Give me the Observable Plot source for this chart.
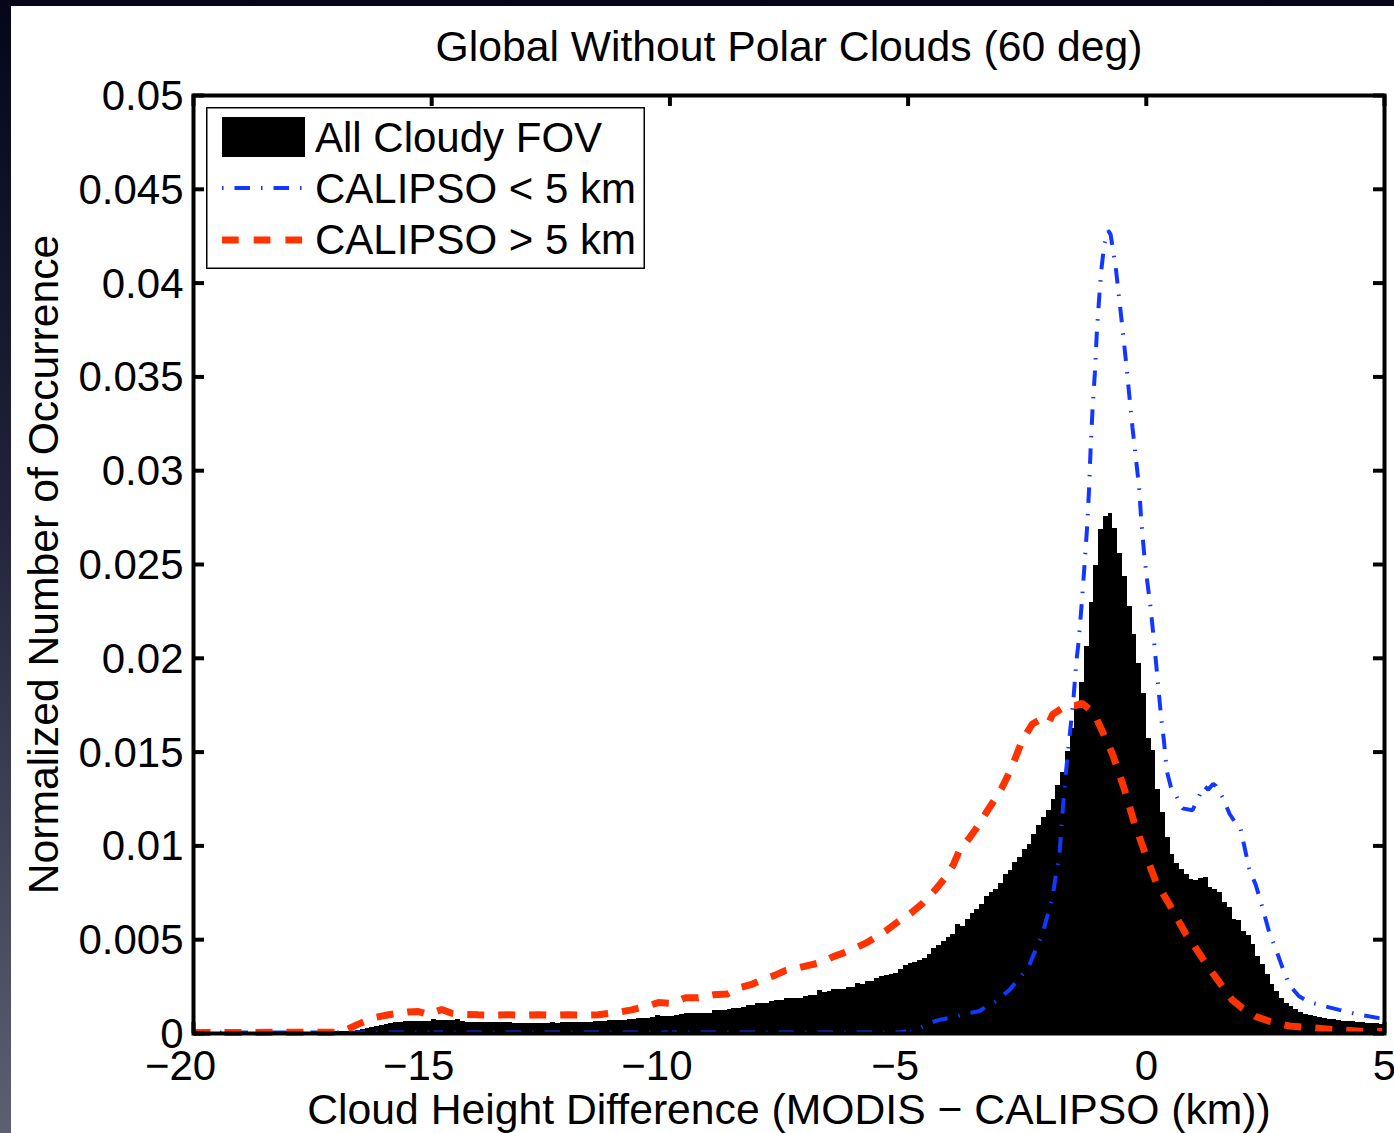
<!DOCTYPE html>
<html><head><meta charset="utf-8">
<script src="https://cdn.jsdelivr.net/npm/d3@7"></script>
<script src="https://cdn.jsdelivr.net/npm/@observablehq/plot@0.6"></script>
<style>
html,body{margin:0;padding:0;width:1394px;height:1133px;overflow:hidden;}
body{background:linear-gradient(to bottom,#05061a 0%,#22233a 45%,#5f5f72 100%);position:relative;font-family:"Liberation Sans",Arial,Helvetica,sans-serif;}
#paper{position:absolute;left:11px;top:6px;width:1383px;height:1127px;background:#fff;}
#chart{position:absolute;left:0;top:0;}
#legend{position:absolute;left:206px;top:107px;}
</style></head><body>
<div id="paper"></div><div id="chart"></div><div id="legend"></div>
<script>
// ---------- data ----------
const titleText = "Global Without Polar Clouds (60 deg)";
const xLabel = "Cloud Height Difference (MODIS \u2212 CALIPSO (km))";
const yLabel = "Normalized Number of Occurrence";
const seriesNames = ["All Cloudy FOV", "CALIPSO < 5 km", "CALIPSO > 5 km"];
const seriesColors = ["#000000", "#1238ff", "#ff3300"];

const xTicks = [-20, -15, -10, -5, 0, 5];
const xTickLabels = ["\u221220", "\u221215", "\u221210", "\u22125", "0", "5"];
const yTicks = [0, 0.005, 0.01, 0.015, 0.02, 0.025, 0.03, 0.035, 0.04, 0.045, 0.05];
const yTickLabels = ["0", "0.005", "0.01", "0.015", "0.02", "0.025", "0.03", "0.035", "0.04", "0.045", "0.05"];
const xDomain = [-20, 5];
const yDomain = [0, 0.05];

// histogram: 0.1 km bins starting at -20 km
const binStart = -20;
const binWidth = 0.1;
const histValues = [
  0.00002,0.00002,0.00002,0.00002,0.00002,0.00002,0.00002,0.00002,0.00002,0.00002,
  0.00002,0.00002,0.00002,0.00002,0.00002,0.00002,0.00002,0.00002,0.00002,0.00002,
  0.00003,0.00003,0.00004,0.00004,0.00005,0.00005,0.00006,0.00007,0.00008,0.00009,
  0.0001,0.0001,0.00011,0.00013,0.00015,0.00019,0.00024,0.0003,0.00036,0.00042,
  0.00048,0.00053,0.00057,0.0006,0.00062,0.00063,0.00064,0.00064,0.00065,0.00066,
  0.00077,0.00068,0.00069,0.0007,0.00068,0.00076,0.00062,0.00061,0.0006,0.0006,
  0.0006,0.00059,0.00059,0.00058,0.00057,0.00056,0.00056,0.00055,0.00055,0.00055,
  0.00055,0.00055,0.00054,0.00055,0.00055,0.00056,0.00055,0.00056,0.00057,0.00058,
  0.00059,0.0006,0.0006,0.00061,0.00062,0.00064,0.00066,0.00067,0.00068,0.00069,
  0.0007,0.00072,0.00076,0.00079,0.00082,0.00082,0.00085,0.00096,0.00093,0.0009,
  0.00091,0.00098,0.001,0.00105,0.00104,0.00104,0.00106,0.00108,0.00108,0.0012,
  0.00121,0.0012,0.0013,0.00135,0.00135,0.0014,0.00149,0.0015,0.00158,0.00158,
  0.0016,0.0017,0.00174,0.00176,0.00185,0.00188,0.00188,0.00186,0.00195,0.002,
  0.00201,0.00228,0.00218,0.00222,0.00233,0.00233,0.00234,0.00245,0.00247,0.00268,
  0.00262,0.00277,0.00279,0.00292,0.00305,0.00309,0.00315,0.0032,0.0034,0.0036,
  0.00375,0.0038,0.0039,0.004,0.0042,0.00455,0.0047,0.0049,0.0051,0.0053,
  0.0058,0.0057,0.0061,0.0064,0.0066,0.0069,0.0073,0.0075,0.0077,0.008,
  0.0085,0.0087,0.0091,0.0094,0.0098,0.0101,0.0106,0.0111,0.0115,0.0119,
  0.0125,0.0132,0.0139,0.01504,0.01628,0.01746,0.01873,0.02065,0.023,0.02493,
  0.02684,0.02757,0.02772,0.02693,0.02557,0.02434,0.02274,0.02125,0.01974,0.0181,
  0.01573,0.0151,0.013,0.01178,0.01045,0.00954,0.00908,0.00872,0.00845,0.00821,
  0.00818,0.00828,0.0083,0.0078,0.0077,0.0075,0.00697,0.0067,0.0061,0.006,
  0.00544,0.0052,0.00473,0.0041,0.00367,0.00313,0.0026,0.00224,0.00188,0.0016,
  0.00144,0.00126,0.00114,0.001,0.00095,0.00088,0.00085,0.0008,0.00075,0.00073,
  0.0007,0.00066,0.00064,0.00062,0.00059,0.00057,0.00055,0.00053,0.00052,0.0005
];

// CALIPSO < 5 km
const blueX = [-20,-17,-14,-11,-8,-6,-5.2,-5.0,-4.9,-4.75,-4.57,-4.3,-4.0,-3.73,-3.5,-3.38,-3.17,-3.03,-2.88,-2.68,
  -2.46,-2.4,-2.18,-2.04,-1.97,-1.88,-1.83,-1.77,-1.7,-1.62,-1.53,-1.47,-1.42,-1.35,-1.29,-1.24,-1.2,-1.17,-1.13,-1.08,
  -1.04,-0.99,-0.94,-0.88,-0.8,-0.75,-0.64,-0.57,-0.5,-0.43,-0.36,-0.29,-0.22,-0.15,-0.11,-0.05,0.0,0.09,0.17,0.24,
  0.31,0.37,0.43,0.52,0.62,0.76,0.97,1.1,1.21,1.3,1.4,1.46,1.6,1.75,1.88,1.98,2.09,2.16,2.3,2.44,
  2.58,2.72,2.86,3.0,3.2,3.4,3.63,4.05,4.47,4.89,5.0];
const blueY = [0.00005,0.00005,0.00005,0.00005,0.00005,0.00005,0.00006,0.00012,0.0002,0.0003,0.00055,0.00075,0.0009,0.00108,0.0012,0.0014,0.0017,0.002,0.0023,0.0029,
  0.0036,0.004,0.0053,0.0066,0.0072,0.0088,0.0093,0.0114,0.0136,0.0156,0.0178,0.0198,0.0209,0.0231,0.0252,0.0271,0.0291,0.0311,0.0332,0.0352,
  0.0373,0.0392,0.0408,0.0421,0.0428,0.0426,0.0408,0.0392,0.0376,0.0359,0.0341,0.0323,0.0307,0.0291,0.0275,0.0257,0.0245,0.0227,0.0207,0.0188,
  0.0169,0.0156,0.014,0.0131,0.0127,0.012,0.0119,0.0126,0.0132,0.013,0.0133,0.0132,0.0126,0.0117,0.0112,0.0109,0.0096,0.0088,0.0079,0.0067,
  0.0054,0.0045,0.0035,0.0026,0.002,0.0017,0.00153,0.00126,0.001,0.00082,0.0008];

// CALIPSO > 5 km
const redX = [-20,-17.0,-16.8,-16.54,-16.2,-15.9,-15.5,-15.28,-15.07,-14.79,-14.58,-14.3,-14.02,-13.7,-13.39,-13.0,-12.76,-12.4,-12.13,-11.8,
  -11.5,-11.1,-10.8,-10.5,-10.24,-9.95,-9.68,-9.4,-9.09,-8.8,-8.57,-8.3,-8.07,-7.8,-7.58,-7.3,-7.02,-6.8,-6.57,-6.35,
  -6.11,-5.9,-5.69,-5.45,-5.2,-4.95,-4.71,-4.45,-4.22,-4.05,-3.93,-3.72,-3.55,-3.38,-3.2,-3.03,-2.82,-2.61,-2.39,-2.18,
  -2.04,-1.97,-1.7,-1.49,-1.35,-1.2,-1.05,-0.92,-0.71,-0.47,-0.26,-0.01,0.2,0.48,0.83,1.0,1.18,1.4,1.6,1.8,
  2.02,2.3,2.6,3.0,3.5,4.0,4.6,5.0];
const redY = [0.00005,0.00007,0.0002,0.0005,0.00085,0.001,0.00115,0.00117,0.00102,0.00128,0.00108,0.00102,0.001,0.00098,0.001,0.00098,0.001,0.00097,0.001,0.00098,
  0.001,0.00112,0.00126,0.00145,0.00165,0.0016,0.0019,0.0019,0.00206,0.0021,0.00242,0.0026,0.00286,0.0031,0.00335,0.0035,0.00367,0.0038,0.0041,0.0043,
  0.00455,0.0048,0.00512,0.0055,0.00598,0.0064,0.0069,0.0076,0.0083,0.009,0.0097,0.0104,0.011,0.0117,0.0124,0.0131,0.0142,0.0156,0.0165,0.0168,
  0.0166,0.017,0.01745,0.01748,0.0176,0.0173,0.0168,0.0161,0.0149,0.0131,0.0113,0.0095,0.0081,0.0069,0.0053,0.0047,0.004,0.0032,0.0025,0.0018,
  0.00135,0.0009,0.00064,0.0004,0.0003,0.0002,0.0001,0.0001];

// ---------- layout ----------
const W = 1394, H = 1133;
const mL = 193, mR = 10, mT = 95, mB = 100;
const frameW = W - mL - mR, frameH = H - mT - mB;
const tickLen = 11;
const font = "'Liberation Sans', Arial, Helvetica, sans-serif";
const fs = 42;
const fsLabel = 42.7;

const hist = histValues.map((v, i) => ({x1: binStart + i * binWidth, x2: binStart + (i + 1) * binWidth, y1: 0, y2: v}));
const blue = blueX.map((x, i) => ({x, y: blueY[i]}));
const red = redX.map((x, i) => ({x, y: redY[i]}));
const xIdx = xTicks.map((d, i) => i);
const negIdx = xIdx.filter(i => xTicks[i] < 0);
const posIdx = xIdx.filter(i => xTicks[i] >= 0);

const chart = Plot.plot({
  width: W, height: H,
  marginLeft: mL, marginRight: mR, marginTop: mT, marginBottom: mB,
  x: {domain: xDomain, axis: null},
  y: {domain: yDomain, axis: null},
  style: {background: "transparent", fontFamily: font, overflow: "visible"},
  marks: [
    Plot.rect(hist, {x1: "x1", x2: "x2", y1: "y1", y2: "y2", fill: seriesColors[0], shapeRendering: "crispEdges"}),
    Plot.line(blue, {x: "x", y: "y", stroke: seriesColors[1], strokeWidth: 4, strokeDasharray: "15.5,11,1.5,11", strokeLinecap: "butt", strokeLinejoin: "miter"}),
    Plot.line(red, {x: "x", y: "y", stroke: seriesColors[2], strokeWidth: 7, strokeDasharray: "17,14", strokeLinecap: "butt", strokeLinejoin: "miter"}),
    Plot.frame({stroke: "black", strokeWidth: 4}),
    Plot.tickX(xTicks, {x: d => d, stroke: "black", strokeWidth: 4, insetTop: frameH - tickLen}),
    Plot.tickX(xTicks, {x: d => d, stroke: "black", strokeWidth: 4, insetBottom: frameH - tickLen}),
    Plot.tickY(yTicks, {y: d => d, stroke: "black", strokeWidth: 4, insetRight: frameW - tickLen}),
    Plot.tickY(yTicks, {y: d => d, stroke: "black", strokeWidth: 4, insetLeft: frameW - tickLen}),
    Plot.text(yTicks, {y: d => d, text: (d, i) => yTickLabels[i], frameAnchor: "left", textAnchor: "end", dx: -10, dy: 1, fontSize: fs, fill: "black"}),
    Plot.text(negIdx, {x: i => xTicks[i], text: i => xTickLabels[i], frameAnchor: "bottom", textAnchor: "middle", lineAnchor: "top", dy: 17, dx: -13, fontSize: fs, fill: "black"}),
    Plot.text(posIdx, {x: i => xTicks[i], text: i => xTickLabels[i], frameAnchor: "bottom", textAnchor: "middle", lineAnchor: "top", dy: 17, fontSize: fs, fill: "black"}),
    Plot.text([titleText], {text: d => d, frameAnchor: "top", textAnchor: "middle", lineAnchor: "bottom", dy: -35, fontSize: fsLabel, fill: "black"}),
    Plot.text([xLabel], {text: d => d, frameAnchor: "bottom", textAnchor: "middle", lineAnchor: "bottom", dy: 90, fontSize: fsLabel, fill: "black"}),
    Plot.text([yLabel], {text: d => d, frameAnchor: "left", textAnchor: "middle", lineAnchor: "bottom", rotate: -90, dx: -136, fontSize: fsLabel, fill: "black"})
  ]
});
document.getElementById("chart").appendChild(chart);

// ---------- legend ----------
const lw = 439, lh = 162;
const lg = d3.select("#legend").append("svg").attr("width", lw).attr("height", lh)
  .style("font-family", font).style("overflow", "visible");
lg.append("rect").attr("x", 0.75).attr("y", 0.75).attr("width", lw - 1.5).attr("height", lh - 1.5)
  .attr("fill", "#fff").attr("stroke", "#000").attr("stroke-width", 1.5);
const rowBase = [45, 96, 147];
const rowMid = [30, 81, 133];
lg.append("rect").attr("x", 16).attr("y", 10).attr("width", 83).attr("height", 40).attr("fill", seriesColors[0]);
lg.append("line").attr("x1", 16).attr("x2", 96).attr("y1", rowMid[1]).attr("y2", rowMid[1])
  .attr("stroke", seriesColors[1]).attr("stroke-width", 4).attr("stroke-dasharray", "1.5,11,15.5,11");
lg.append("line").attr("x1", 16).attr("x2", 97).attr("y1", rowMid[2]).attr("y2", rowMid[2])
  .attr("stroke", seriesColors[2]).attr("stroke-width", 7).attr("stroke-dasharray", "16.7,15");
seriesNames.forEach((name, i) => {
  lg.append("text").attr("x", 109).attr("y", rowBase[i]).attr("font-size", fs).attr("fill", "#000").text(name);
});
</script></body></html>
